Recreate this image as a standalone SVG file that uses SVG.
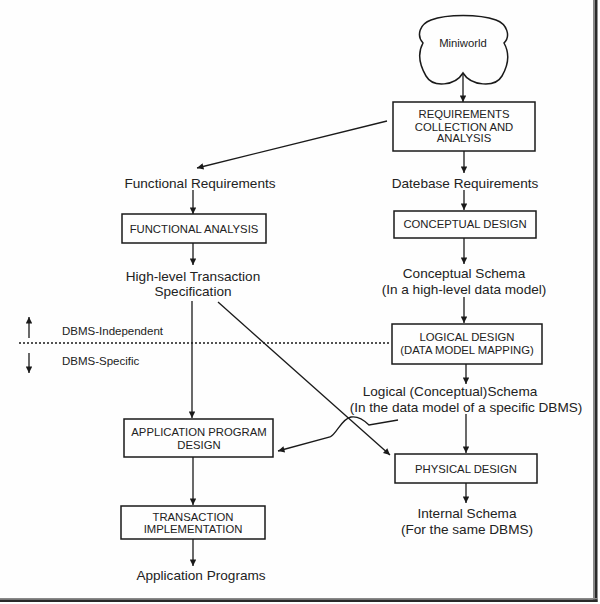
<svg xmlns="http://www.w3.org/2000/svg" width="600" height="604" viewBox="0 0 600 604">
<style>
.bg{fill:#fefefe}
.box{fill:none;stroke:#1a1a1a;stroke-width:1.5}
.ln{fill:none;stroke:#1a1a1a;stroke-width:1.3}
.lbl{font-family:"Liberation Sans",Arial,sans-serif;font-size:13.6px;fill:#222;text-anchor:middle}
.cap{font-family:"Liberation Sans",Arial,sans-serif;font-size:11.3px;fill:#222;text-anchor:middle}
.side{font-family:"Liberation Sans",Arial,sans-serif;font-size:11.5px;fill:#222}
</style>
<defs>
<marker id="ah" viewBox="0 0 10 10" refX="10" refY="5" markerWidth="8" markerHeight="6.5" markerUnits="userSpaceOnUse" orient="auto">
<path d="M0,0 L10,5 L0,10 z" fill="#1a1a1a"/>
</marker>
</defs>
<rect class="bg" x="0" y="0" width="600" height="604"/>
<rect x="593" y="0" width="2" height="602" fill="#888"/>
<rect x="595" y="0" width="2.5" height="602" fill="#2a2a2a"/>
<rect x="0" y="598" width="597" height="1.5" fill="#888"/>
<rect x="0" y="599.5" width="597.5" height="2.5" fill="#2a2a2a"/>

<g id="connectors">
<line class="ln" x1="463" y1="73" x2="463" y2="102" marker-end="url(#ah)"/>
<line class="ln" x1="464" y1="151" x2="464" y2="173" marker-end="url(#ah)"/>
<line class="ln" x1="387" y1="121" x2="197" y2="168" marker-end="url(#ah)"/>
<line class="ln" x1="193" y1="190" x2="193" y2="214" marker-end="url(#ah)"/>
<line class="ln" x1="193" y1="243" x2="193" y2="265" marker-end="url(#ah)"/>
<line class="ln" x1="192" y1="301" x2="192" y2="418" marker-end="url(#ah)"/>
<line class="ln" x1="218" y1="302" x2="390" y2="455" marker-end="url(#ah)"/>
<line class="ln" x1="464" y1="190" x2="464" y2="210" marker-end="url(#ah)"/>
<line class="ln" x1="464" y1="238" x2="464" y2="264" marker-end="url(#ah)"/>
<line class="ln" x1="464" y1="297" x2="464" y2="323" marker-end="url(#ah)"/>
<line class="ln" x1="466" y1="364" x2="466" y2="384" marker-end="url(#ah)"/>
<line class="ln" x1="466" y1="414" x2="466" y2="453" marker-end="url(#ah)"/>
<path class="ln" d="M398,420 L369,425 C363,419 357,416 351,417 C341,419 337,434 330,437 L278,451" marker-end="url(#ah)"/>
<line class="ln" x1="466" y1="483" x2="466" y2="503" marker-end="url(#ah)"/>
<line class="ln" x1="193" y1="457" x2="193" y2="505" marker-end="url(#ah)"/>
<line class="ln" x1="193" y1="539" x2="193" y2="566" marker-end="url(#ah)"/>
<line x1="19" y1="343" x2="391" y2="343" stroke="#1a1a1a" stroke-width="1.5" stroke-dasharray="2,2"/>
<line class="ln" x1="29" y1="338" x2="29" y2="317" marker-end="url(#ah)"/>
<line class="ln" x1="29" y1="353" x2="29" y2="373" marker-end="url(#ah)"/>
</g>

<g id="miniworld">
<path d="M463,73 C455,86 433,88 426,76 C419,64 418,52 423,43 C416,35 420,24 431,20 C447,14 479,14 496,20 C507,24 511,36 504,43 C509,52 509,64 502,76 C495,88 471,86 463,73 Z" fill="none" stroke="#1a1a1a" stroke-width="1.5"/>
<text class="cap" x="463" y="47" fill="#444">Miniworld</text>
</g>

<g id="requirements">
<rect class="box" x="393" y="102" width="142" height="49"/>
<text class="cap" x="464" y="118">REQUIREMENTS</text>
<text class="cap" x="464" y="131">COLLECTION AND</text>
<text class="cap" x="464" y="142">ANALYSIS</text>
</g>

<g id="database-requirements">
<text class="lbl" x="465" y="187.5">Datebase Requirements</text>
</g>

<g id="functional-requirements">
<text class="lbl" x="200" y="187.5">Functional Requirements</text>
</g>

<g id="functional-analysis">
<rect class="box" x="122" y="214" width="144" height="29"/>
<text class="cap" x="194" y="232.7">FUNCTIONAL ANALYSIS</text>
</g>

<g id="transaction-spec">
<text class="lbl" x="193" y="280.5">High-level Transaction</text>
<text class="lbl" x="193" y="295.5">Specification</text>
</g>

<g id="conceptual-design">
<rect class="box" x="394" y="211" width="142" height="27"/>
<text class="cap" x="465" y="228">CONCEPTUAL DESIGN</text>
</g>

<g id="conceptual-schema">
<text class="lbl" x="464" y="277.5">Conceptual Schema</text>
<text class="lbl" x="464" y="293.5">(In a high-level data model)</text>
</g>

<g id="dbms-labels">
<text class="side" x="62" y="335">DBMS-Independent</text>
<text class="side" x="62" y="365">DBMS-Specific</text>
</g>

<g id="logical-design">
<rect class="box" x="392" y="324" width="150" height="40"/>
<text class="cap" x="467" y="341">LOGICAL DESIGN</text>
<text class="cap" x="467" y="354">(DATA MODEL MAPPING)</text>
</g>

<g id="logical-schema">
<text class="lbl" x="450" y="395.5">Logical (Conceptual)Schema</text>
<text class="lbl" x="466" y="411.5">(In the data model of a specific DBMS)</text>
</g>

<g id="application-program-design">
<rect class="box" x="124" y="419" width="149" height="38"/>
<text class="cap" x="199" y="436">APPLICATION PROGRAM</text>
<text class="cap" x="199" y="449">DESIGN</text>
</g>

<g id="physical-design">
<rect class="box" x="395" y="454" width="142" height="29"/>
<text class="cap" x="466" y="473">PHYSICAL DESIGN</text>
</g>

<g id="internal-schema">
<text class="lbl" x="467" y="517.5">Internal Schema</text>
<text class="lbl" x="467" y="533.5">(For the same DBMS)</text>
</g>

<g id="transaction-implementation">
<rect class="box" x="121" y="506" width="144" height="33"/>
<text class="cap" x="193" y="521">TRANSACTION</text>
<text class="cap" x="193" y="533">IMPLEMENTATION</text>
</g>

<g id="application-programs">
<text class="lbl" x="201" y="579.5">Application Programs</text>
</g>
</svg>
